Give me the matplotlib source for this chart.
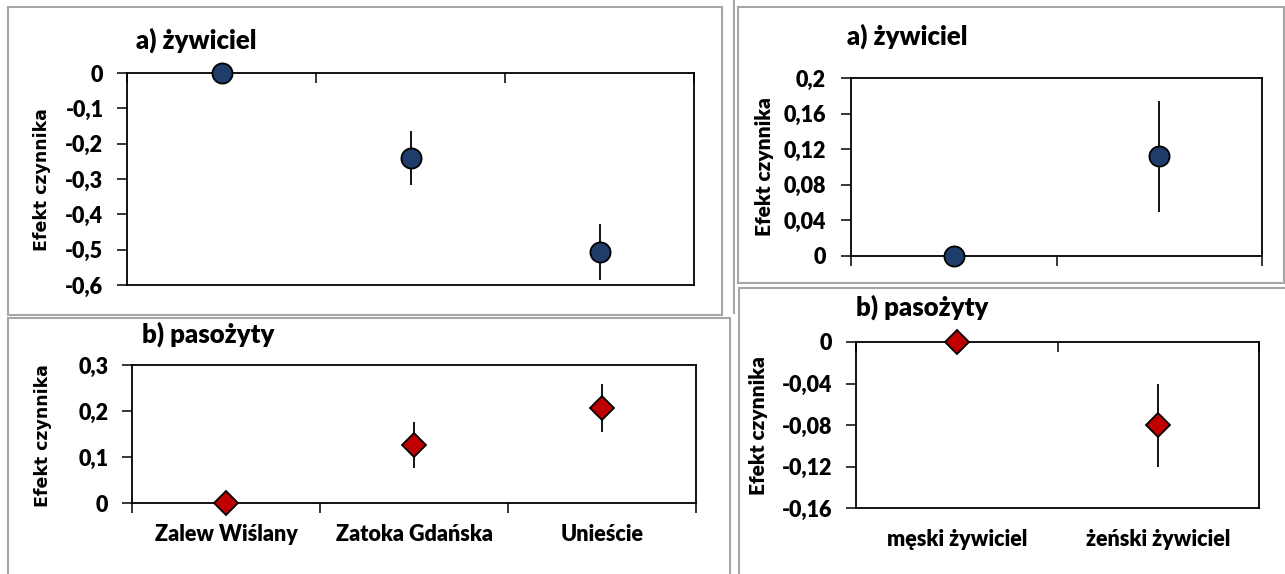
import matplotlib
matplotlib.use('Agg')
import matplotlib.pyplot as plt
from matplotlib.patches import Rectangle
from matplotlib.lines import Line2D

W, H = 1285, 574

# efekt lokalizacji (lewa kolumna)
sites = ['Zalew Wiślany', 'Zatoka Gdańska', 'Unieście']
host_site = [0.0, -0.241, -0.506]
host_site_err = [0.0, 0.076, 0.080]
para_site = [0.0, 0.126, 0.207]
para_site_err = [0.0, 0.050, 0.052]

# efekt płci żywiciela (prawa kolumna)
sexes = ['męski żywiciel', 'żeński żywiciel']
host_sex = [0.0, 0.112]
host_sex_err = [0.0, 0.062]
para_sex = [0.0, -0.080]
para_sex_err = [0.0, 0.040]

ticks_host_site = [0, -0.1, -0.2, -0.3, -0.4, -0.5, -0.6]
ticks_para_site = [0, 0.1, 0.2, 0.3]
ticks_host_sex = [0, 0.04, 0.08, 0.12, 0.16, 0.2]
ticks_para_sex = [0, -0.04, -0.08, -0.12, -0.16]

NAVY = '#1f3d6b'
RED = '#c00000'
FRAME = '#a6a6a6'

plt.rcParams['font.family'] = ['Lato', 'DejaVu Sans']
plt.rcParams['font.weight'] = 'heavy'

fig = plt.figure(figsize=(W / 100, H / 100), dpi=100)


def add_ax(x0, y0, x1, y1):
    return fig.add_axes([x0 / W, 1 - y1 / H, (x1 - x0) / W, (y1 - y0) / H])


def comma(v):
    s = f'{v:.2f}'.rstrip('0').rstrip('.')
    if s == '-0':
        s = '0'
    return s.replace('.', ',')


def draw(ax, cats, vals, errs, yticks, marker, ms, face, zero_top, labels, ypad):
    n = len(cats)
    x = list(range(1, n + 1))
    ax.errorbar(x, vals, yerr=errs, fmt='none', ecolor='black',
                elinewidth=1.3, zorder=2)
    ax.plot(x, vals, ls='none', marker=marker, ms=ms, mfc=face, mec='black',
            mew=1.3, zorder=3, clip_on=False)
    ax.set_xlim(0.5, n + 0.5)
    ax.set_ylim(min(yticks), max(yticks))
    ax.set_yticks(yticks, labels=[comma(t) for t in yticks])
    ax.set_xticks([0.5 + i for i in range(n + 1)], labels=[''] * (n + 1))
    for s in ax.spines.values():
        s.set_linewidth(1.3)
    ax.tick_params(axis='y', direction='out', length=7, width=1.1,
                   pad=ypad, labelsize=15.5)
    if zero_top:
        ax.tick_params(axis='x', which='major', top=True, bottom=False,
                       direction='in', length=7, width=1.1)
    else:
        ax.tick_params(axis='x', which='major', top=False, bottom=True,
                       direction='out', length=7, width=1.1)
    if labels:
        ax.set_xticks(x, labels=cats, minor=True)
        ax.tick_params(axis='x', which='minor', length=0, bottom=True,
                       labelbottom=True, pad=15, labelsize=15.5)


# ramki paneli
for x0, y0, x1, y1 in [(8, 7, 722, 315), (8, 318, 730, 580),
                       (738, 7, 1284, 283), (739, 288, 1290, 580)]:
    fig.patches.append(Rectangle((x0 / W, 1 - y1 / H), (x1 - x0) / W,
                                 (y1 - y0) / H, transform=fig.transFigure,
                                 fill=False, ec=FRAME, lw=1.5))
fig.add_artist(Line2D([734 / W, 734 / W], [1, 1 - 313 / H],
                      transform=fig.transFigure, color=FRAME, lw=1.5))

ax1 = add_ax(127, 73, 694, 285)
draw(ax1, sites, host_site, host_site_err, ticks_host_site, 'o', 14.5, NAVY,
     True, False, 10)
ax2 = add_ax(132, 365, 696, 503)
draw(ax2, sites, para_site, para_site_err, ticks_para_site, 'D', 12.5, RED,
     False, True, 10)
ax3 = add_ax(851, 78, 1262, 256)
draw(ax3, sexes, host_sex, host_sex_err, ticks_host_sex, 'o', 14.5, NAVY,
     False, False, 11)
ax4 = add_ax(856, 342, 1259, 508)
draw(ax4, sexes, para_sex, para_sex_err, ticks_para_sex, 'D', 12.5, RED,
     True, True, 10)

# tytuły paneli
for x, y, t in [(136, 49, 'a) żywiciel'), (142, 343, 'b) pasożyty'),
                (847, 45, 'a) żywiciel'), (856, 316, 'b) pasożyty')]:
    fig.text(x / W, 1 - y / H, t, ha='left', va='baseline', fontsize=18.5)

# opisy osi Y
for x, y, fam, size, wt in [(42, 180, 'DejaVu Sans', 12.5, 'bold'),
                            (43, 436, 'DejaVu Sans', 12.5, 'bold'),
                            (764, 167, 'Lato', 15, 'heavy'),
                            (758, 426, 'Lato', 15, 'heavy')]:
    fig.text(x / W, 1 - y / H, 'Efekt czynnika', rotation=90, ha='center',
             va='center', fontsize=size, family=[fam, 'DejaVu Sans'],
             fontweight=wt)

fig.savefig('out.png', dpi=100)
